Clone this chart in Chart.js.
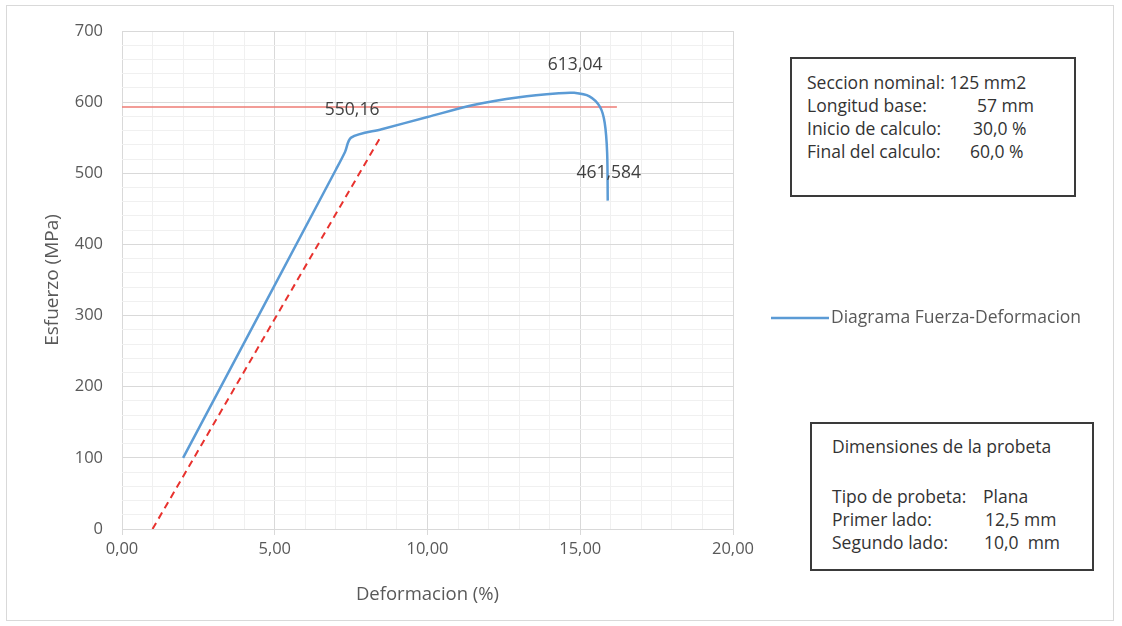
<!DOCTYPE html>
<html>
<head>
<meta charset="utf-8">
<script src="https://cdn.jsdelivr.net/npm/chart.js@4.4.0/dist/chart.umd.min.js"></script>
<style>
  html, body { margin: 0; padding: 0; background: #fff; }
  #wrap { position: relative; width: 1122px; height: 626px; font-family: "Open Sans", Lato, sans-serif; }
  #frame { position: absolute; left: 6px; top: 5px; width: 1108px; height: 616px; border: 1px solid #d9d9d9; box-sizing: border-box; pointer-events: none; }
  .info { position: absolute; border: 2px solid #3a3a3a; box-sizing: border-box; background: #fff; color: #333; font-size: 17.5px; line-height: 23px; }
  .info .row { position: relative; white-space: pre; height: 23px; }
  .info .val { position: absolute; top: 0; }
  #box1 { left: 790px; top: 57px; width: 286px; height: 140px; padding: 12px 0 0 15px; }
  #box2 { left: 810px; top: 422px; width: 284px; height: 149px; padding: 11px 0 0 20px; }
</style>
</head>
<body>
<div id="wrap">
  <canvas id="c" width="1122" height="626"></canvas>
  <div id="frame"></div>
  <div class="info" id="box1">
    <div class="row">Seccion nominal: 125 mm2</div>
    <div class="row">Longitud base:<span class="val" style="left:170px">57 mm</span></div>
    <div class="row">Inicio de calculo:<span class="val" style="left:166px">30,0 %</span></div>
    <div class="row">Final del calculo:<span class="val" style="left:163px">60,0 %</span></div>
  </div>
  <div class="info" id="box2">
    <div class="row">Dimensiones de la probeta</div>
    <div class="row" style="height:27px"> </div>
    <div class="row">Tipo de probeta:<span class="val" style="left:151px">Plana</span></div>
    <div class="row">Primer lado:<span class="val" style="left:153px">12,5 mm</span></div>
    <div class="row">Segundo lado:<span class="val" style="left:152px">10,0  mm</span></div>
  </div>
</div>
<script>
// curva esfuerzo-deformacion (%, MPa)
const curveX = [2.0, 7.0, 7.3, 7.5, 8.5, 10.0, 11.5, 13.0, 14.3, 14.8, 15.3, 15.65, 15.8, 15.88, 15.9];
const curveY = [100, 505, 530, 550.16, 562, 579, 596, 607, 612.5, 613.04, 608, 593, 571, 529, 461.584];
// recta paralela (offset)
const offsetX = [1.0, 8.45];
const offsetY = [0, 550];
// linea horizontal
const limitX = [0, 16.2];
const limitY = [593, 593];
// valores anotados
const labelIdx = [3, 9, 14];
const labelTxt = ['550,16', '613,04', '461,584'];

const xMajor = [0, 5, 10, 15, 20];
const yMajor = [0, 100, 200, 300, 400, 500, 600, 700];

const pts = (xs, ys) => xs.map((x, i) => ({ x, y: ys[i] }));
const GRAY = '#595959';
const FONT = '"Open Sans", Lato, sans-serif';

const dataLabels = {
  id: 'dataLabels',
  afterDatasetsDraw(chart) {
    const ctx = chart.ctx;
    const meta = chart.getDatasetMeta(0);
    ctx.save();
    ctx.font = '17.5px ' + FONT;
    ctx.fillStyle = '#404040';
    ctx.textAlign = 'center';
    ctx.textBaseline = 'middle';
    labelIdx.forEach((idx, i) => {
      const p = meta.data[idx];
      ctx.fillText(labelTxt[i], p.x + 1, p.y - 28);
    });
    ctx.restore();
  }
};

const sideLegend = {
  id: 'sideLegend',
  afterDraw(chart) {
    const ctx = chart.ctx;
    const ds = chart.data.datasets[0];
    ctx.save();
    ctx.strokeStyle = ds.borderColor;
    ctx.lineWidth = 2.5;
    ctx.beginPath();
    ctx.moveTo(771, 318);
    ctx.lineTo(829, 318);
    ctx.stroke();
    ctx.font = '17.5px ' + FONT;
    ctx.fillStyle = GRAY;
    ctx.textBaseline = 'middle';
    ctx.fillText(ds.label, 831, 318);
    ctx.restore();
  }
};

new Chart(document.getElementById('c'), {
  type: 'scatter',
  data: {
    datasets: [
      { label: 'Diagrama Fuerza-Deformacion', data: pts(curveX, curveY), showLine: true,
        borderColor: '#5B9BD5', borderWidth: 2.5, pointRadius: 0, tension: 0.3, order: 0 },
      { label: 'offset', data: pts(offsetX, offsetY), showLine: true,
        borderColor: '#E8322E', borderWidth: 2, borderDash: [7, 5], pointRadius: 0, order: 1 },
      { label: 'limite', data: pts(limitX, limitY), showLine: true,
        borderColor: '#EE7B74', borderWidth: 1.5, pointRadius: 0, order: 2 }
    ]
  },
  options: {
    responsive: false,
    animation: false,
    layout: { padding: { left: 41, right: 389, top: 31, bottom: 20 } },
    plugins: { legend: { display: false }, tooltip: { enabled: false } },
    scales: {
      x: {
        type: 'linear', min: 0, max: 20,
        afterFit: s => { s.height = 77; },
        ticks: {
          stepSize: 1, autoSkip: false, maxRotation: 0, padding: 4, color: GRAY,
          font: { family: FONT, size: 16.5 },
          callback: v => xMajor.includes(v) ? v.toFixed(2).replace('.', ',') : ''
        },
        grid: {
          color: c => xMajor.includes(c.tick.value) ? '#d9d9d9' : '#f0f0f0',
          tickLength: 6,
          tickColor: c => xMajor.includes(c.tick.value) ? '#d9d9d9' : 'rgba(0,0,0,0)'
        },
        border: { color: '#d9d9d9' },
        title: { display: true, text: 'Deformacion (%)', color: GRAY,
          font: { family: FONT, size: 18.5 }, padding: 0 }
      },
      y: {
        type: 'linear', min: 0, max: 700,
        afterFit: s => { s.width = 81; },
        ticks: {
          stepSize: 20, autoSkip: false, padding: 19, color: GRAY,
          font: { family: FONT, size: 16.5 },
          callback: v => yMajor.includes(v) ? String(v) : ''
        },
        grid: {
          color: c => yMajor.includes(c.tick.value) ? '#d9d9d9' : '#f0f0f0',
          drawTicks: false
        },
        border: { display: false },
        title: { display: true, text: 'Esfuerzo (MPa)', color: GRAY,
          font: { family: FONT, size: 19 }, padding: 0 }
      }
    }
  },
  plugins: [dataLabels, sideLegend]
});
</script>
</body>
</html>
